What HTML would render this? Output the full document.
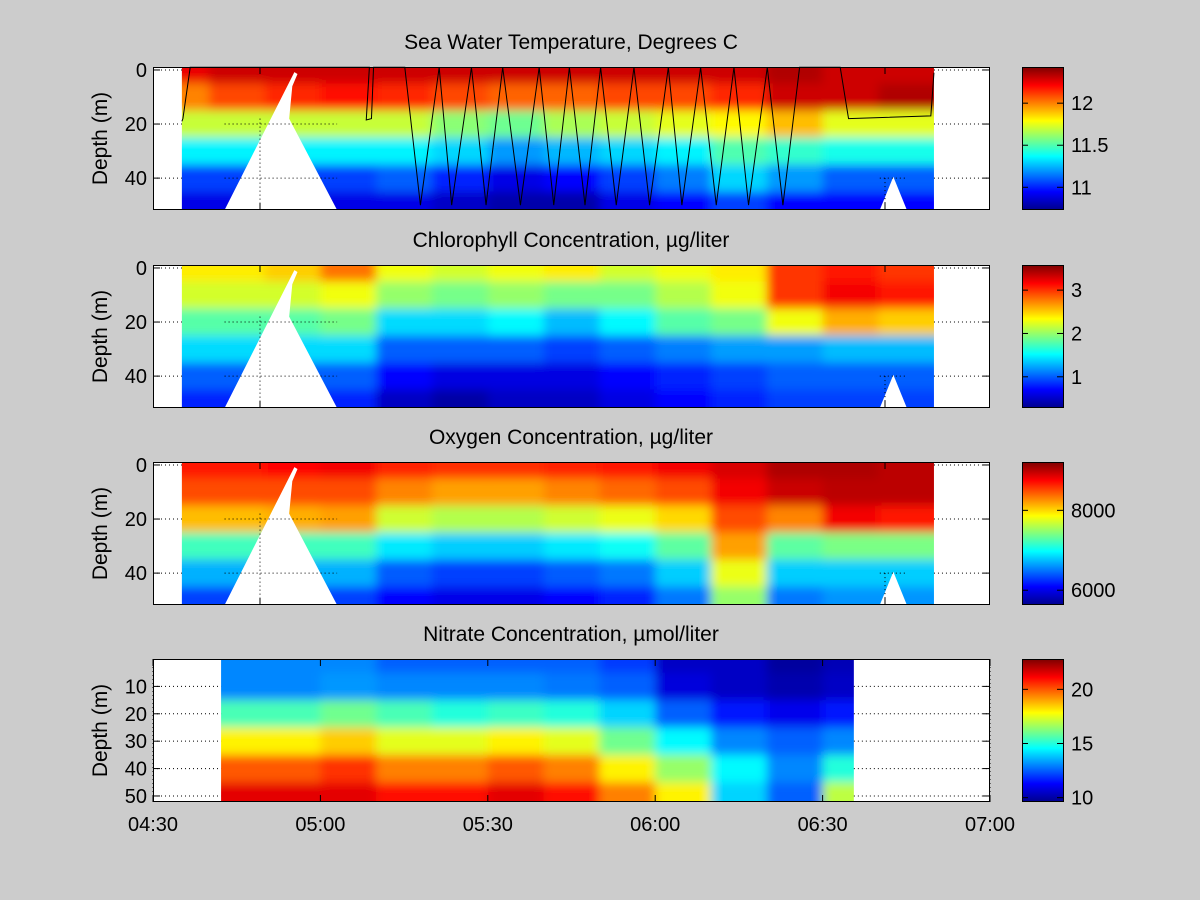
<!DOCTYPE html>
<html><head><meta charset="utf-8"><style>
html,body{margin:0;padding:0;background:#cccccc;}
svg{display:block;font-family:"Liberation Sans",sans-serif;}
</style></head>
<body>
<svg id="fig" width="1200" height="900" viewBox="0 0 1200 900" xmlns="http://www.w3.org/2000/svg">
<defs>
<filter id="blur" x="-5%" y="-10%" width="110%" height="120%"><feGaussianBlur stdDeviation="5"/></filter>
<linearGradient id="jet" x1="0" y1="1" x2="0" y2="0">
<stop offset="0" stop-color="#00008f"/><stop offset="0.125" stop-color="#0000ff"/>
<stop offset="0.375" stop-color="#00ffff"/><stop offset="0.625" stop-color="#ffff00"/>
<stop offset="0.875" stop-color="#ff0000"/><stop offset="1" stop-color="#800000"/>
</linearGradient>
</defs>
<rect width="1200" height="900" fill="#cccccc"/>
</svg>
<script>
// ---- data (times in minutes after 04:30) ----
const depths = [0,10,20,30,40,50];
const timesA = [22.4,27.8,33.1,38.5,43.8,49.2,54.6,59.9,65.3,70.6,76.0,81.3,86.7,92.0];
const timesN = [15,25,35,45,55,65,75,85,95,105,115,125];
const temp0 = [12.25,12.3,12.3,12.3,12.3,12.3,12.3,12.3,12.3,12.3,12.3,12.35,12.3,12.3];
const temp10 = [12.0,12.1,12.15,12.2,12.15,12.1,12.05,12.05,12.1,12.1,12.15,12.3,12.3,12.35];
const temp20 = [11.7,11.7,11.7,11.7,11.7,11.6,11.55,11.65,11.7,11.75,11.8,11.9,11.75,11.75];
const temp30 = [11.35,11.35,11.35,11.35,11.35,11.3,11.2,11.25,11.3,11.35,11.5,11.45,11.4,11.4];
const temp40 = [11.05,11.05,11.05,11.05,11.1,11.0,10.9,10.95,11.05,11.15,11.3,11.2,11.1,11.1];
const temp50 = [10.9,10.9,10.9,10.9,10.9,10.85,10.8,10.8,10.9,10.95,11.05,10.95,10.95,10.95];
const chl0 = [2.4,2.4,2.5,2.8,2.3,2.2,2.3,2.4,2.2,2.3,2.4,3.0,3.1,3.0];
const chl10 = [2.2,2.2,2.2,2.3,2.0,1.9,2.0,1.9,1.9,2.1,2.3,3.0,3.2,3.1];
const chl20 = [1.8,1.8,1.8,1.9,1.4,1.4,1.5,1.3,1.5,1.8,1.9,2.3,2.6,2.5];
const chl30 = [1.4,1.4,1.4,1.4,1.0,1.0,1.0,0.9,1.0,1.1,1.2,1.2,1.3,1.3];
const chl40 = [1.0,1.0,1.0,1.0,0.7,0.6,0.6,0.6,0.7,0.8,0.9,1.0,1.0,1.0];
const chl50 = [0.8,0.8,0.8,0.8,0.5,0.4,0.5,0.5,0.6,0.7,0.8,0.9,0.9,0.9];
const oxy0 = [8700,8700,8750,8800,8650,8600,8600,8650,8700,8800,8900,9050,9050,9000];
const oxy10 = [8500,8500,8500,8500,8300,8200,8200,8300,8400,8500,8800,8950,9000,9000];
const oxy20 = [8100,8100,8150,8200,7700,7600,7600,7700,7800,8000,8500,8300,8800,8700];
const oxy30 = [7200,7200,7200,7200,6900,6800,6800,6900,7000,7300,8200,7300,7400,7400];
const oxy40 = [6700,6700,6700,6700,6400,6300,6300,6400,6500,6800,7800,6800,6800,6800];
const oxy50 = [6300,6300,6300,6300,6100,6000,6000,6100,6200,6500,7500,6500,6600,6600];
const nit0 = [13,13,13,12.5,12.5,12.5,12.5,12,10.5,10.5,10,10.3];
const nit10 = [13,13,13.2,13,13,13,12.8,12.5,10.8,10.5,10.2,10.5];
const nit20 = [15.5,15.5,16,15.5,15,15.3,15,14,12.5,11.5,11,11.5];
const nit30 = [18,18,18.5,17.5,17.5,18,17.5,16,14.5,13,12.5,13];
const nit40 = [20,20,20.5,19.5,19.5,20,19.5,18,16.5,14.5,13,15];
const nit50 = [21.5,21.5,21.5,21,21,21.5,21,19.5,18,14,12.5,17];
const trackT = [22.5,22.6,23.3,40.5,40.2,40.7,40.9,43.9,45.4,47.2,48.4,50.3,51.7,53.3,55.0,56.8,58.2,59.7,61.2,62.7,64.2,65.9,67.4,69.2,70.5,72.3,73.8,75.5,76.9,78.7,80.2,81.8,85.7,86.5,94.4,94.7];
const trackD = [19,18,-1,-1,18.5,18,-1,-1,50,-1,50,-1,50,-1,50,-1,50,-1,50,-1,50,-1,50,-1,50,-1,50,-1,50,-1,50,-1,-1,18,17,1];
const xTicksBottom = [0,30,60,90,120,150];
const xTickLabels = ["04:30","05:00","05:30","06:00","06:30","07:00"];
const xTicksTop = [30,90];

// ---- helpers ----
const NS="http://www.w3.org/2000/svg";
const svg=document.getElementById('fig');
function mk(tag,attrs,parent){const e=document.createElementNS(NS,tag);for(const k in attrs)e.setAttribute(k,attrs[k]);(parent||svg).appendChild(e);return e;}
const X0=153,X1=990;
function xBottom(t){return X0+t*(X1-X0)/150;}
function xTop(t){return 260+(t-30)*625/60;}
function jet(v){v=Math.max(0,Math.min(1,v));const c=x=>Math.round(255*Math.max(0,Math.min(1,1.5-Math.abs(x))));return `rgb(${c(4*v-3)},${c(4*v-2)},${c(4*v-1)})`;}

const panels=[
 {title:"Sea Water Temperature, Degrees C",top:67,dmin:-1.1,dmax:51.8,rows:[temp0,temp10,temp20,temp30,temp40,temp50],times:timesA,t0:22.5,t1:94.7,vmin:10.73,vmax:12.43,yt:[0,20,40],cbt:[11,11.5,12],cbl:["11","11.5","12"],mask:true,track:true,name:"temperature"},
 {title:"Chlorophyll Concentration, \u00b5g/liter",top:265,dmin:-1.1,dmax:51.8,rows:[chl0,chl10,chl20,chl30,chl40,chl50],times:timesA,t0:22.5,t1:94.7,vmin:0.28,vmax:3.58,yt:[0,20,40],cbt:[1,2,3],cbl:["1","2","3"],mask:true,name:"chlorophyll"},
 {title:"Oxygen Concentration, \u00b5g/liter",top:462,dmin:-1.1,dmax:51.8,rows:[oxy0,oxy10,oxy20,oxy30,oxy40,oxy50],times:timesA,t0:22.5,t1:94.7,vmin:5630,vmax:9210,yt:[0,20,40],cbt:[6000,8000],cbl:["6000","8000"],mask:true,name:"oxygen"},
 {title:"Nitrate Concentration, \u00b5mol/liter",top:659,dmin:0,dmax:52.2,rows:[nit0,nit10,nit20,nit30,nit40,nit50],times:timesN,t0:12.2,t1:125.6,vmin:9.6,vmax:22.8,yt:[10,20,30,40,50],cbt:[10,15,20],cbl:["10","15","20"],mask:false,name:"nitrate",xlabels:true}
];
const H=143;

panels.forEach((p,pi)=>{
 const xScale=p.xlabels?xBottom:xTop;
 const ticks=p.xlabels?xTicksBottom:xTicksTop;
 const yScale=d=>p.top+(d-p.dmin)*H/(p.dmax-p.dmin);
 const g=mk('g',{});
 
 
 const bg=mk('rect',{x:X0,y:p.top,width:X1-X0,height:H,fill:'#fff'},g);
 
 
 const gridG=mk('g',{},g);
 
 
 // heatmap
 const cid='clip'+pi;
 const cp=mk('clipPath',{id:cid},g);
 mk('rect',{x:xScale(p.t0),y:p.top,width:xScale(p.t1)-xScale(p.t0),height:H},cp);
 const hc=mk('g',{'clip-path':`url(#${cid})`},g);
 
 
 const hb=mk('g',{filter:'url(#blur)'},hc);
 const ts=p.times;
 for(let i=0;i<ts.length;i++){
  const xa=i==0?xScale(p.t0)-15:xScale((ts[i-1]+ts[i])/2);
  const xb=i==ts.length-1?xScale(p.t1)+15:xScale((ts[i]+ts[i+1])/2);
  for(let j=0;j<depths.length;j++){
   const ya=j==0?p.top-15:yScale((depths[j-1]+depths[j])/2);
   const yb=j==depths.length-1?p.top+H+15:yScale((depths[j]+depths[j+1])/2);
   const v=p.rows[j][i];
   const r=mk('rect',{x:xa,y:ya,width:xb-xa+0.5,height:yb-ya+0.5,fill:jet((v-p.vmin)/(p.vmax-p.vmin))},hb);
   
   
  }
 }
 if(p.mask){
  const bt=p.top+H;
  const tri=mk('polygon',{points:`${xScale(26.6)},${bt} ${xScale(33.3)},${yScale(0.8)} ${xScale(33.6)},${yScale(1.5)} ${xScale(33.1)},${yScale(6)} ${xScale(32.8)},${yScale(18)} ${xScale(37.4)},${bt}`,fill:'#fff'},g);
  
  
  const t2=mk('polygon',{points:`${xScale(89.5)},${bt} ${xScale(90.8)},${yScale(39.5)} ${xScale(92.1)},${bt}`,fill:'#fff'},g);
  
  
 }
 // grid drawn over white areas (dotted)
 const gg=mk('g',{},g);
 
 
 const segs=[];
 // white regions: outside data extent and mask triangles
 const whiteX=[[X0,xScale(p.t0)],[xScale(p.t1),X1]];
 ticks.forEach(t=>{
  const x=xScale(t);
  let inWhite=whiteX.some(r=>x>=r[0]&&x<=r[1]);
  if(inWhite){segs.push([x,p.top,x,p.top+H]);}
  else if(p.mask && t==30){segs.push([x,yScale(18),x,p.top+H]);}
  else if(p.mask && t==90){segs.push([x,yScale(40),x,p.top+H]);}
 });
 p.yt.forEach(d=>{
  const y=yScale(d);
  whiteX.forEach(r=>segs.push([r[0],y,r[1],y]));
  if(p.mask&&d>=18){segs.push([xScale(26.6),y,xScale(37.4),y]);}
  if(p.mask&&d>=40){segs.push([xScale(89.5),y,xScale(92.1),y]);}
 });
 segs.forEach(s=>{const l=mk('line',{x1:s[0],y1:s[1],x2:s[2],y2:s[3],stroke:'#000','stroke-width':1,'stroke-dasharray':'1,3'},gg);
  
  });
 if(p.track){
  const pts=trackT.map((t,k)=>xScale(t)+','+yScale(trackD[k])).join(' ');
  const tl=mk('polyline',{points:pts,fill:'none',stroke:'#000','stroke-width':1},g);
  
  
 }
 // frame & ticks
 const fr=mk('rect',{x:X0+0.5,y:p.top+0.5,width:X1-X0-1,height:H-1,fill:'none',stroke:'#000','stroke-width':1},g);
 
 
 ticks.forEach((t,k)=>{
  mk('line',{x1:xScale(t),x2:xScale(t),y1:p.top+H,y2:p.top+H-7,stroke:'#000'},g);
  mk('line',{x1:xScale(t),x2:xScale(t),y1:p.top,y2:p.top+7,stroke:'#000'},g);
  if(p.xlabels){const tx=mk('text',{x:xScale(t),y:p.top+H+29,'font-size':20,'text-anchor':'middle',fill:'#000'},g);tx.textContent=xTickLabels[k];
   
   }
 });
 p.yt.forEach(d=>{
  mk('line',{x1:X0,x2:X0+7,y1:yScale(d),y2:yScale(d),stroke:'#000'},g);
  mk('line',{x1:X1,x2:X1-7,y1:yScale(d),y2:yScale(d),stroke:'#000'},g);
  const tx=mk('text',{x:147,y:yScale(d)+7,'font-size':20,'text-anchor':'end',fill:'#000'},g);tx.textContent=d;
  
  
 });
 const ti=mk('text',{x:571,y:p.top-18,'font-size':21,'text-anchor':'middle',fill:'#000'},g);ti.textContent=p.title;
 
 
 const yl=mk('text',{x:0,y:0,'font-size':21,'text-anchor':'middle',fill:'#000',transform:`translate(107,${p.top+H/2}) rotate(-90)`},g);yl.textContent='Depth (m)';
 
 
 // colorbar
 const cb=mk('rect',{x:1022.5,y:p.top+0.5,width:41,height:H-1,fill:'url(#jet)',stroke:'#000','stroke-width':1},g);
 
 
 p.cbt.forEach((v,k)=>{
  const y=p.top+H-(v-p.vmin)/(p.vmax-p.vmin)*H;
  mk('line',{x1:1022,x2:1028,y1:y,y2:y,stroke:'#000'},g);
  mk('line',{x1:1063,x2:1057,y1:y,y2:y,stroke:'#000'},g);
  const tx=mk('text',{x:1071,y:y+7,'font-size':20,fill:'#000'},g);tx.textContent=p.cbl[k];
  
  
 });
});
</script>
</body></html>
